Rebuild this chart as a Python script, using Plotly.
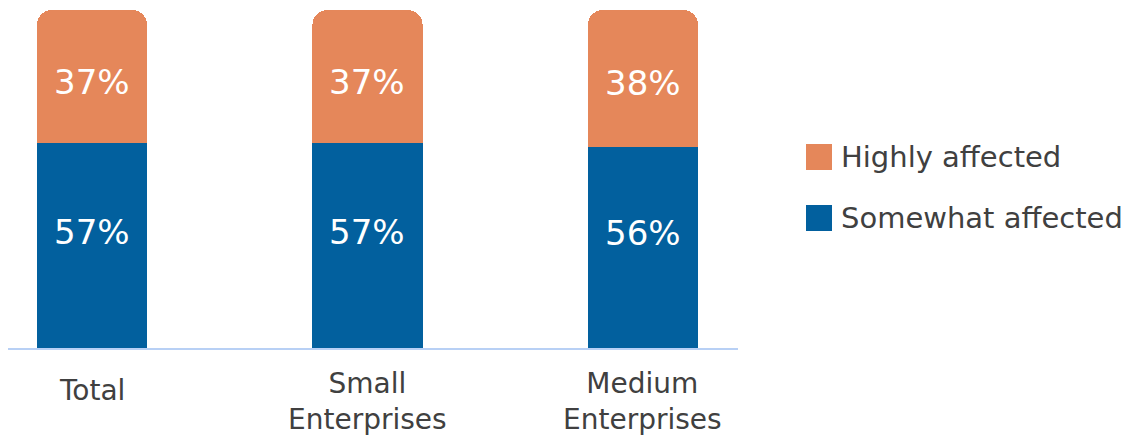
import plotly.graph_objects as go

categories = ["Total", "Small<br>Enterprises", "Medium<br>Enterprises"]
somewhat = [57, 57, 56]
highly = [37, 37, 38]
colors = {"Somewhat affected": "#02609E", "Highly affected": "#E5875A"}

FONT = "DejaVu Sans"
x = [0, 1, 2]

fig = go.Figure()
for name, vals in [("Somewhat affected", somewhat), ("Highly affected", highly)]:
    fig.add_trace(go.Bar(
        x=x, y=vals, name=name, width=0.4,
        marker=dict(color=colors[name], line=dict(width=0)),
        showlegend=False, hoverinfo="skip",
    ))

# value labels
for xi, s, h in zip(x, somewhat, highly):
    fig.add_annotation(x=xi, y=s / 2, text=f"{s}%", showarrow=False, yshift=14,
                       font=dict(size=34, color="white", family=FONT))
    fig.add_annotation(x=xi, y=s + h / 2, text=f"{h}%", showarrow=False, yshift=-5,
                       font=dict(size=34, color="white", family=FONT))

# category labels
for xi, lab in zip(x, categories):
    ypx = 390 if "<br>" not in lab else 401
    fig.add_annotation(x=xi, y=1 - (ypx - 10) / 338, xref="x", yref="paper", text=lab,
                       showarrow=False, yanchor="middle", xanchor="center",
                       font=dict(size=28, color="#404040", family=FONT))

# legend (drawn manually for larger swatches)
legend_items = [("Highly affected", 157), ("Somewhat affected", 218)]
for name, ypx in legend_items:
    y0 = 1 - (ypx + 13 - 10) / 338
    y1 = 1 - (ypx - 13 - 10) / 338
    fig.add_shape(type="rect", xref="paper", yref="paper",
                  x0=(806 - 8) / 730, x1=(832 - 8) / 730, y0=y0, y1=y1,
                  fillcolor=colors[name], line=dict(width=0))
    fig.add_annotation(xref="paper", yref="paper", x=(839 - 8) / 730,
                       y=1 - (ypx - 10) / 338, text=name, showarrow=False,
                       xanchor="left", yanchor="middle",
                       font=dict(size=29, color="#404040", family=FONT))

fig.update_layout(
    barmode="stack", barcornerradius=15,
    width=1135, height=437,
    margin=dict(l=8, r=397, t=10, b=89),
    plot_bgcolor="white", paper_bgcolor="white",
    xaxis=dict(range=[-0.305, 2.345], showticklabels=False, showgrid=False,
               zeroline=False, showline=True, linecolor="#B8D0F5", linewidth=2,
               ticks=""),
    yaxis=dict(range=[0, 94], visible=False, showgrid=False, zeroline=False),
)

fig.write_html("out.html")
